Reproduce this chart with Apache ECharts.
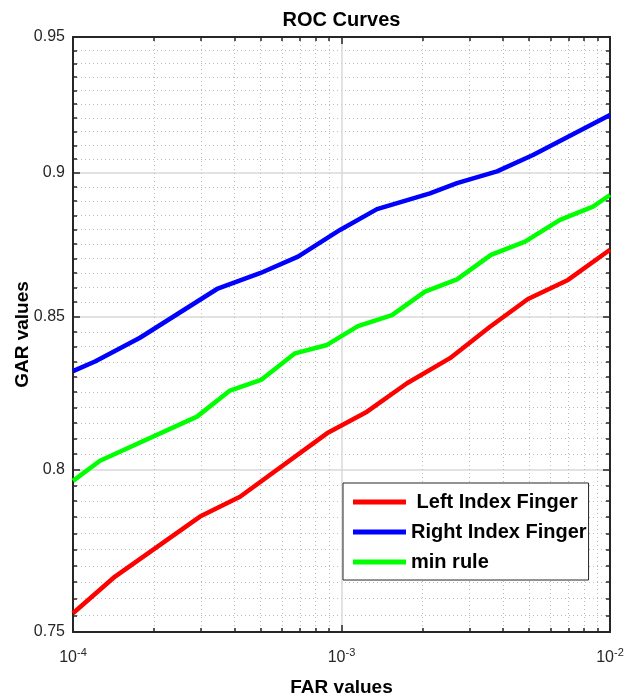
<!DOCTYPE html>
<html><head><meta charset="utf-8">
<script src="https://cdn.jsdelivr.net/npm/echarts@6/dist/echarts.min.js"></script>
<style>html,body{margin:0;padding:0;background:#fff}#c{width:627px;height:700px}</style>
</head><body><div id="c"></div>
<script>
const FONT = "'Liberation Sans', Arial, Helvetica, sans-serif";

const seriesNames = ['Left Index Finger', 'Right Index Finger', 'min rule'];
const seriesColors = ['#ff0000', '#0000ff', '#00ff00'];

const leftFAR = [1.000e-4, 1.434e-4, 2.972e-4, 4.188e-4, 8.830e-4, 1.245e-3, 1.754e-3, 2.536e-3, 3.574e-3, 4.950e-3, 6.976e-3, 1.000e-2];
const leftGAR = [0.7556, 0.7667, 0.7852, 0.7914, 0.8116, 0.8186, 0.8279, 0.8362, 0.8467, 0.8561, 0.8626, 0.8730];

const rightFAR = [1.000e-4, 1.208e-4, 1.776e-4, 3.439e-4, 4.971e-4, 6.887e-4, 9.872e-4, 1.356e-3, 2.136e-3, 2.693e-3, 3.795e-3, 5.167e-3, 1.000e-2];
const rightGAR = [0.8319, 0.8351, 0.8430, 0.8595, 0.8649, 0.8706, 0.8799, 0.8872, 0.8928, 0.8964, 0.9006, 0.9065, 0.9210];

const minFAR = [1.000e-4, 1.261e-4, 2.896e-4, 3.843e-4, 5.014e-4, 6.712e-4, 8.830e-4, 1.152e-3, 1.542e-3, 2.046e-3, 2.693e-3, 3.605e-3, 4.825e-3, 6.513e-3, 8.643e-3, 1.000e-2];
const minGAR = [0.7964, 0.8028, 0.8170, 0.8255, 0.8290, 0.8378, 0.8406, 0.8469, 0.8506, 0.8586, 0.8628, 0.8712, 0.8758, 0.8834, 0.8881, 0.8922];

const xTickValues = [1e-4, 1e-3, 1e-2];
const yTickValues = [0.75, 0.8, 0.85, 0.9, 0.95];

// log-space transform for both axes (log-log plot)
const L = Math.log10;
const xMin = L(xTickValues[0]), xMax = L(xTickValues[xTickValues.length - 1]);
const yMin = L(yTickValues[0]), yMax = L(yTickValues[yTickValues.length - 1]);
const xMajor = xTickValues.map(L);
const xMinor = [];
for (let d = 0; d < xTickValues.length - 1; d++) {
  for (let k = 2; k <= 9; k++) xMinor.push(L(k * xTickValues[d]));
}
const yMajor = yTickValues.map(L);
const yMinor = [];
for (let i = 1; i < 40; i++) { if (i % 10 !== 0) yMinor.push(L(0.75 + i * 0.005)); }

const pairs = (xs, ys) => xs.map((x, i) => [L(x), L(ys[i])]);
const seriesData = [pairs(leftFAR, leftGAR), pairs(rightFAR, rightGAR), pairs(minFAR, minGAR)];

const AX = '#262626';
const majorGrid = { show: true, lineStyle: { color: '#d9d9d9', width: 1.5 } };
const minorGrid = { show: true, lineStyle: { color: '#bcbcbc', width: 1, type: [1, 3] } };

function axis(kind, position, major, withLabel, withGrid) {
  const isX = kind === 'x';
  const a = {
    type: 'value',
    position: position,
    min: isX ? xMin : yMin,
    max: isX ? xMax : yMax,
    axisLine: { show: major, onZero: false, lineStyle: { color: AX, width: 2 } },
    axisTick: { show: true, inside: true, length: major ? 7 : 4,
      customValues: isX ? (major ? xMajor : xMinor) : (major ? yMajor : yMinor),
      lineStyle: { color: AX, width: 1.5 } },
    axisLabel: { show: false },
    splitLine: withGrid ? (major ? majorGrid : minorGrid) : { show: false },
    minorTick: { show: false },
    minorSplitLine: { show: false }
  };
  if (withLabel) {
    if (isX) {
      a.axisLabel = {
        show: true, customValues: xMajor, margin: 15, color: AX,
        formatter: v => '{b|10}{s|' + Math.round(v) + '}',
        rich: {
          b: { fontFamily: FONT, fontSize: 16, color: AX, lineHeight: 22 },
          s: { fontFamily: FONT, fontSize: 11, color: AX, lineHeight: 12, verticalAlign: 'top' }
        }
      };
      a.name = 'FAR values';
      a.nameLocation = 'middle';
      a.nameGap = 46;
      a.nameMoveOverlap = false;
      a.nameTextStyle = { fontFamily: FONT, fontSize: 19, fontWeight: 'bold', color: '#000' };
    } else {
      a.axisLabel = {
        show: true, customValues: yMajor, margin: 8, color: AX,
        fontFamily: FONT, fontSize: 16,
        formatter: v => String(+Math.pow(10, v).toFixed(2))
      };
      a.name = 'GAR values';
      a.nameLocation = 'middle';
      a.nameGap = 41;
      a.nameMoveOverlap = false;
      a.nameTextStyle = { fontFamily: FONT, fontSize: 19, fontWeight: 'bold', color: '#000' };
    }
  }
  return a;
}

// centre title over plot area
const plotLeft = 73, plotRight = 610;
const ctx = document.createElement('canvas').getContext('2d');
ctx.font = "bold 20px 'Liberation Sans', Arial, sans-serif";
const titleText = 'ROC Curves';
const titleW = ctx.measureText(titleText).width;

const chart = echarts.init(document.getElementById('c'), null, { renderer: 'canvas' });
chart.setOption({
  animation: false,
  backgroundColor: '#fff',
  title: {
    text: titleText, left: (plotLeft + plotRight) / 2 - titleW / 2, top: 10, padding: 0,
    textStyle: { fontFamily: FONT, fontSize: 20, fontWeight: 'bold', color: '#000' }
  },
  grid: { left: 73, right: 627 - 610, top: 37, bottom: 700 - 632, containLabel: false, outerBoundsMode: 'none' },
  xAxis: [
    axis('x', 'bottom', true, true, true),
    axis('x', 'bottom', false, false, true),
    axis('x', 'top', true, false, false),
    axis('x', 'top', false, false, false)
  ],
  yAxis: [
    axis('y', 'left', true, true, true),
    axis('y', 'left', false, false, true),
    axis('y', 'right', true, false, false),
    axis('y', 'right', false, false, false)
  ],
  legend: {
    orient: 'vertical', left: 343, top: 483,
    padding: [8, 2, 7, 10],
    backgroundColor: '#fff', borderColor: AX, borderWidth: 1,
    icon: 'rect', itemWidth: 53, itemHeight: 5, itemGap: 8, itemTextGap: 1,
    data: seriesNames,
    formatter: n => (n === 'Left Index Finger' ? ' ' + n : n),
    textStyle: { fontFamily: FONT, fontSize: 20, fontWeight: 'bold', color: '#000', lineHeight: 22 },
    z: 10
  },
  series: seriesNames.map((name, i) => ({
    name: name, type: 'line', xAxisIndex: 0, yAxisIndex: 0,
    data: seriesData[i], showSymbol: false, symbol: 'none',
    color: seriesColors[i],
    lineStyle: { color: seriesColors[i], width: 4.5 },
    z: 3
  }))
});
</script></body></html>
